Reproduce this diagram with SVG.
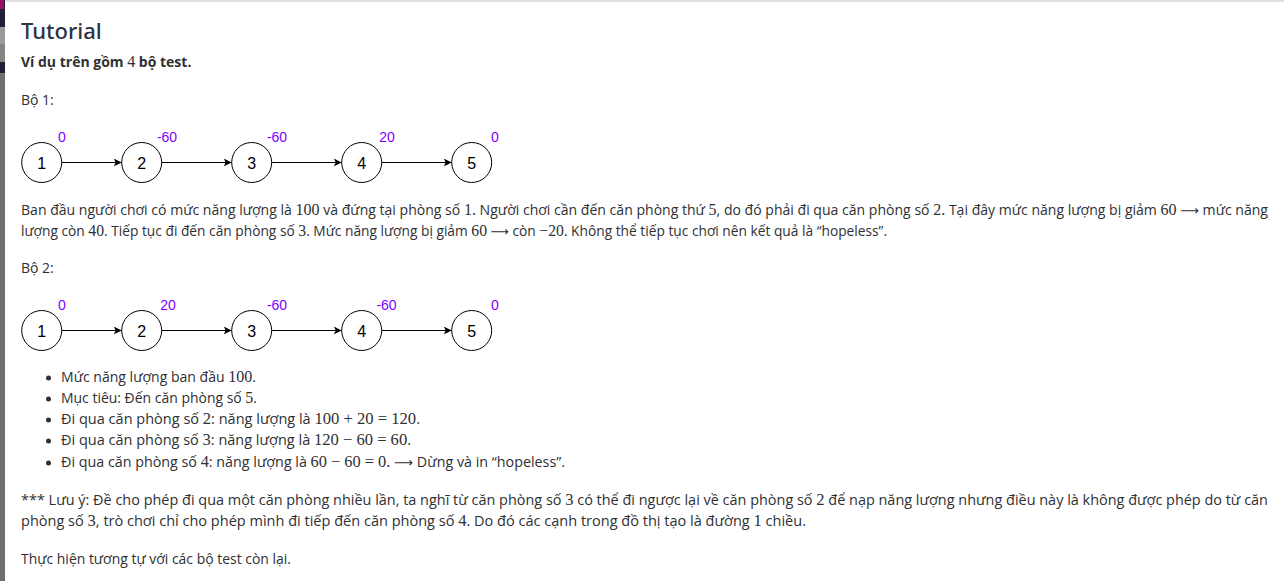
<svg xmlns="http://www.w3.org/2000/svg" width="1284" height="581" viewBox="0 0 1284 581">
<defs>
<style>
.bg{fill:#ffffff}
.txt{font-family:"Open Sans","Noto Sans","Liberation Sans",sans-serif;font-size:14px;fill:#2f3033}
.m{font-family:"Liberation Serif","DejaVu Serif",serif;font-size:16px}
.ar{font-family:"DejaVu Sans",sans-serif;font-size:13px}
.h1{font-family:"Noto Sans","Open Sans","Liberation Sans",sans-serif;font-size:22px;font-weight:500;fill:#2b3245}
.b{font-weight:bold}
.node circle{fill:#ffffff;stroke:#000000;stroke-width:1}
.node .num{font-family:"Liberation Sans",Arial,sans-serif;font-size:16px;fill:#000000;text-anchor:middle}
.node .lbl{font-family:"Liberation Sans",Arial,sans-serif;font-size:14px;fill:#7f00ff;text-anchor:middle}
.edge{stroke:#000000;stroke-width:1;fill:none;marker-end:url(#arr)}
.dot{fill:#2f3033}
</style>
<marker id="arr" markerUnits="userSpaceOnUse" markerWidth="10" markerHeight="10" refX="8" refY="4" orient="auto">
<path d="M0,0 L8,4 L0,8 L2,4 z" fill="#000000"/>
</marker>
</defs>
<rect class="bg" x="0" y="0" width="1284" height="581"/>
<rect x="5" y="0" width="1279" height="2" fill="#dfe3e8"/>
<g id="sidebar">
<rect x="0" y="0" width="5" height="581" fill="#6f6f6f"/>
<rect x="0" y="0" width="5" height="27" fill="#1f2033"/>
<rect x="0" y="0" width="4" height="9" fill="#9a1060"/>
<rect x="0" y="27" width="5" height="17" fill="#9b9b9b"/>
<rect x="0" y="44" width="5" height="18" fill="#858585"/>
<rect x="0" y="62" width="5" height="11" fill="#1f2033"/>
</g>

<text class="h1" x="21" y="39">Tutorial</text>
<text class="txt b" x="21" y="67">Ví dụ trên gồm <tspan class="m" font-weight="normal">4</tspan> bộ test.</text>
<text class="txt" x="21" y="105">Bộ 1:</text>

<g id="graph1">
<g id="connectors1">
<line class="edge" x1="61.7" y1="162.5" x2="121.7" y2="162.5"/>
<line class="edge" x1="161.7" y1="162.5" x2="231.7" y2="162.5"/>
<line class="edge" x1="271.7" y1="162.5" x2="341.7" y2="162.5"/>
<line class="edge" x1="381.7" y1="162.5" x2="451.7" y2="162.5"/>
</g>
<g id="g1-n1" class="node"><circle cx="41.7" cy="162.5" r="20"/><text class="num" x="41.7" y="168.5">1</text><text class="lbl" x="62" y="142">0</text></g>
<g id="g1-n2" class="node"><circle cx="141.7" cy="162.5" r="20"/><text class="num" x="141.7" y="168.5">2</text><text class="lbl" x="167" y="142">-60</text></g>
<g id="g1-n3" class="node"><circle cx="251.7" cy="162.5" r="20"/><text class="num" x="251.7" y="168.5">3</text><text class="lbl" x="277" y="142">-60</text></g>
<g id="g1-n4" class="node"><circle cx="361.7" cy="162.5" r="20"/><text class="num" x="361.7" y="168.5">4</text><text class="lbl" x="387" y="142">20</text></g>
<g id="g1-n5" class="node"><circle cx="471.7" cy="162.5" r="20"/><text class="num" x="471.7" y="168.5">5</text><text class="lbl" x="495" y="142">0</text></g>
</g>

<text class="txt" x="21" y="215" textLength="1247" lengthAdjust="spacingAndGlyphs">Ban đầu người chơi có mức năng lượng là <tspan class="m">100</tspan> và đứng tại phòng số <tspan class="m">1.</tspan> Người chơi cần đến căn phòng thứ <tspan class="m">5</tspan>, do đó phải đi qua căn phòng số <tspan class="m">2.</tspan> Tại đây mức năng lượng bị giảm <tspan class="m">60</tspan> <tspan class="ar">⟶</tspan> mức năng</text>
<text class="txt" x="21" y="236" textLength="866" lengthAdjust="spacingAndGlyphs">lượng còn <tspan class="m">40</tspan>. Tiếp tục đi đến căn phòng số <tspan class="m">3</tspan>. Mức năng lượng bị giảm <tspan class="m">60</tspan> <tspan class="ar">⟶</tspan> còn <tspan class="m">−20</tspan>. Không thể tiếp tục chơi nên kết quả là “hopeless”.</text>

<text class="txt" x="21" y="273">Bộ 2:</text>

<g id="graph2">
<g id="connectors2">
<line class="edge" x1="61.7" y1="330.5" x2="121.7" y2="330.5"/>
<line class="edge" x1="161.7" y1="330.5" x2="231.7" y2="330.5"/>
<line class="edge" x1="271.7" y1="330.5" x2="341.7" y2="330.5"/>
<line class="edge" x1="381.7" y1="330.5" x2="451.7" y2="330.5"/>
</g>
<g id="g2-n1" class="node"><circle cx="41.7" cy="330.5" r="20"/><text class="num" x="41.7" y="336.5">1</text><text class="lbl" x="62" y="310">0</text></g>
<g id="g2-n2" class="node"><circle cx="141.7" cy="330.5" r="20"/><text class="num" x="141.7" y="336.5">2</text><text class="lbl" x="168" y="310">20</text></g>
<g id="g2-n3" class="node"><circle cx="251.7" cy="330.5" r="20"/><text class="num" x="251.7" y="336.5">3</text><text class="lbl" x="277" y="310">-60</text></g>
<g id="g2-n4" class="node"><circle cx="361.7" cy="330.5" r="20"/><text class="num" x="361.7" y="336.5">4</text><text class="lbl" x="386.5" y="310">-60</text></g>
<g id="g2-n5" class="node"><circle cx="471.7" cy="330.5" r="20"/><text class="num" x="471.7" y="336.5">5</text><text class="lbl" x="495" y="310">0</text></g>
</g>

<g id="bullets">
<circle class="dot" cx="48.5" cy="378" r="2.5"/>
<circle class="dot" cx="48.5" cy="399" r="2.5"/>
<circle class="dot" cx="48.5" cy="420" r="2.5"/>
<circle class="dot" cx="48.5" cy="441" r="2.5"/>
<circle class="dot" cx="48.5" cy="463" r="2.5"/>
</g>
<text class="txt" x="61" y="382" textLength="195" lengthAdjust="spacingAndGlyphs">Mức năng lượng ban đầu <tspan class="m">100</tspan>.</text>
<text class="txt" x="61" y="403" textLength="196" lengthAdjust="spacingAndGlyphs">Mục tiêu: Đến căn phòng số <tspan class="m">5</tspan>.</text>
<text class="txt" x="61" y="424" textLength="359" lengthAdjust="spacingAndGlyphs">Đi qua căn phòng số <tspan class="m">2</tspan>: năng lượng là <tspan class="m">100 + 20 = 120</tspan>.</text>
<text class="txt" x="61" y="445" textLength="350" lengthAdjust="spacingAndGlyphs">Đi qua căn phòng số <tspan class="m">3</tspan>: năng lượng là <tspan class="m">120 − 60 = 60</tspan>.</text>
<text class="txt" x="61" y="467" textLength="504" lengthAdjust="spacingAndGlyphs">Đi qua căn phòng số <tspan class="m">4</tspan>: năng lượng là <tspan class="m">60 − 60 = 0.</tspan> <tspan class="ar">⟶</tspan> Dừng và in “hopeless”.</text>

<text class="txt" x="21" y="505" textLength="1247" lengthAdjust="spacingAndGlyphs">*** Lưu ý: Đề cho phép đi qua một căn phòng nhiều lần, ta nghĩ từ căn phòng số <tspan class="m">3</tspan> có thể đi ngược lại về căn phòng số <tspan class="m">2</tspan> để nạp năng lượng nhưng điều này là không được phép do từ căn</text>
<text class="txt" x="21" y="526" textLength="785" lengthAdjust="spacingAndGlyphs">phòng số <tspan class="m">3</tspan>, trò chơi chỉ cho phép mình đi tiếp đến căn phòng số <tspan class="m">4</tspan>. Do đó các cạnh trong đồ thị tạo là đường <tspan class="m">1</tspan> chiều.</text>

<text class="txt" x="21" y="564" textLength="270" lengthAdjust="spacingAndGlyphs">Thực hiện tương tự với các bộ test còn lại.</text>
</svg>
